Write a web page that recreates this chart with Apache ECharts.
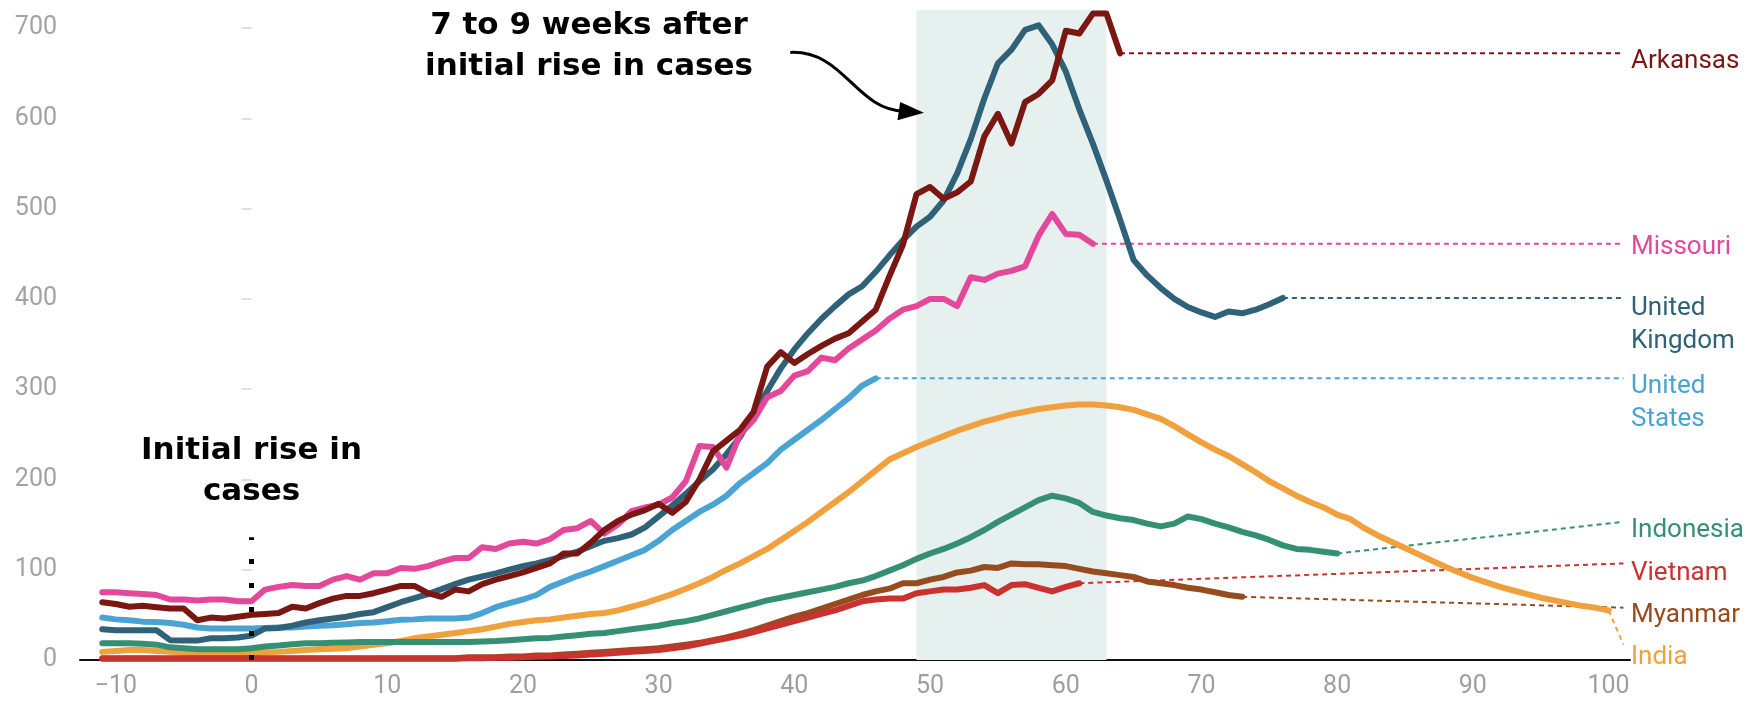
<!DOCTYPE html>
<html><head><meta charset="utf-8">
<script src="https://cdn.jsdelivr.net/npm/echarts@6/dist/echarts.min.js"></script>
<style>html,body{margin:0;padding:0;background:#fff}#c{width:1750px;height:701px}</style>
</head><body><div id="c"></div>
<script>
// ---- data (weeks since initial rise; first value is week X_START) ----
const X_START = -11;
const xTicks = [-10,0,10,20,30,40,50,60,70,80,90,100];
const yTicks = [0,100,200,300,400,500,600,700];

const arkansas = [64,62,59,60,58.5,57,57,44,47,46,48,50,51,52,59,57,63,68,71,71,74,78,82,82,74,70,78,76,84,89,93,97,102,107,118,118,130,144,154,161,166,173,163,175,200,231,243,255,275,325,341,329,339,348,356,362,375,388,425,460,516,524,511,518,530,580,605,572,618,627,642,697,694,716,716,672];
const unitedKingdom = [34,33,33,33,33,22,21.5,21.5,24,24,25,27,35,35.5,38,41.5,44,46,48,51,53,58.5,64,68.5,73,78.5,84,89,92.5,96,100,104,107,111,115,120,126,132,135,139,147,159,171,184,198,211,228,247,273,298,323,344,362,378,392,405,414,430,448,465,480,491,509,539,577,622,661,676,698,703,682,652,610,572,531,488,443,426,412,400,391,385,380,386,384,388,394,401];
const missouri = [75,75,74,73,72,67,67,66,67,67,65,65,78,81,83,82,82,89,93,89,96,96,102,101,104,109,113,113,125,123,129,131,129,134,144,146,154,140,150,165,169,172,180,198,237,236,213,250,266,291,298,315,320,335,332,345,355,365,378,388,392,400,400,392,424,421,428,431,436,470,494,472,471,461];
const unitedStates = [47,45,44,42.5,42,41,39,36,35,35,35,35,35.5,36,36,37,38,38.5,39.5,41,41.5,43,44.5,45,46,46,46,47,52,58.5,63,67,72,81,87,93,98,104,110,116,122,132,144,154,164,172,182,196,207,218,233,244,255,266,278,290,304,312];
const india = [9,10,11,11,10,9,8,7.5,7,7,7,7.5,8.5,9,10,11,12,12.5,13,15,17,18.5,21,24,26,28,30,32,34,37,40,42,44,45,47,49,51,52,55,59,63,68,73,79,85,92,100,107,115,123,133,143,153,164,175,186,198,210,222,229,236,242,248,254,259,264,268,272,275,278,280,282,283,283,282,280,277,272,267,259,250,241,233,226,217,208,198,190,182,175,169,161,156,146,138,131,124,117,110,103,97,91,86,81,77,73,69,66,63,60,58,55];
const indonesia = [18.5,18.5,18.5,18,17,14,13,12,12,12,12,13,15,16,17.5,18.5,18.5,19,19.5,20,20,20,20,20,20,20,20,20,20.5,21,22,23,24,24.5,26,27.5,29,30,32,34,36,38,41,43,46,50,54,58,62,66,69,72,75,78,81,85,88,93,99,105,112,118,123,129,136,144,153,161,169,177,182,179,174,164,160,157,155,151,148,151,159,156,151,147,142,138,133,127,123,122,120,118];
const vietnam = [1.5,1.5,1.5,1.5,1.5,1.5,1.5,1.5,1.5,1.5,1.5,1.5,1.5,1.5,1.5,1.5,1.5,1.5,1.5,1.5,1.5,1.5,1.5,1.5,1.5,1.5,1.5,2,2,2.5,2.5,3,3.5,4,4.5,5,6,7,8,9,10,11,13,15,18,21,24,27,31,35,39,43,47,51,55,60,65,67,68,68,74,76,78,78,80,83,74,83,84,80,76,81,85];
const myanmar = [2,2,2,2,2,2,2,2,2,2,2,2,2,2,2,2,2,2,2,2,2,2,2,2,2,2,2,3,3,3,4,4,5,5,6,7,8,9,10,11,12,13,15,17,19,22,25,29,33,38,43,48,52,57,62,67,72,76,79,85,85,89,92,97,99,103,102,107,106,106,105,104,101,98,96,94,92,87,85,83,80,78,75,72,70];

// shaded window (weeks) and the "initial rise" marker
const bandWeeks = [49, 63];
const riseMarker = [[0, 0], [0, 136]];

// ---- styling / layout ----
const LABEL_X = 101.1;
const seriesDefs = [
  {name:'India',     data:india,         color:'#f0a03c', label:'India',             labelY:17,  dy:13},
  {name:'Indonesia', data:indonesia,     color:'#358f73', label:'Indonesia',         labelY:153, dy:9},
  {name:'Myanmar',   data:myanmar,       color:'#974c1f', label:'Myanmar',           labelY:58,  dy:8},
  {name:'Vietnam',   data:vietnam,       color:'#c9322e', label:'Vietnam',           labelY:107, dy:10},
  {name:'US',        data:unitedStates,  color:'#4ba3d3', label:'United\nStates',    labelY:312, dy:25},
  {name:'UK',        data:unitedKingdom, color:'#2f6278', label:'United\nKingdom',   labelY:401, dy:27},
  {name:'Missouri',  data:missouri,      color:'#e4489b', label:'Missouri',          labelY:461, dy:4},
  {name:'Arkansas',  data:arkansas,      color:'#7a1712', label:'Arkansas',          labelY:672, dy:8}
];

const toPairs = arr => arr.map((v, i) => [X_START + i, v]);
const minus = v => String(v).replace('-', '\u2212');

const series = [];
series.push({
  type:'line', data:[], silent:true, z:1,
  markArea:{silent:true, itemStyle:{color:'#e6f0ee'}, data:[[{xAxis:bandWeeks[0]},{xAxis:bandWeeks[1]}]]}
});
seriesDefs.forEach(d => {
  const pts = toPairs(d.data);
  const last = pts[pts.length - 1];
  series.push({
    name:d.name + ' leader', type:'line', z:2, silent:true,
    symbol:'circle', symbolSize:1, showSymbol:true, showAllSymbol:true,
    itemStyle:{color:'rgba(0,0,0,0)', borderWidth:0},
    lineStyle:{color:d.color, width:2, type:[5,4]},
    label:{show:false},
    data:[
      {value:last},
      {value:[LABEL_X, d.labelY], label:{
        show:true, position:'right', distance:7, offset:[0, d.dy],
        formatter:d.label, color:d.color, fontSize:26, fontFamily:'Roboto', lineHeight:33, align:'left'
      }}
    ]
  });
});
seriesDefs.forEach(d => {
  series.push({
    name:d.name, type:'line', z:3, symbol:'none', silent:true,
    data:toPairs(d.data),
    lineStyle:{color:d.color, width:6, join:'round', cap:'round'}
  });
});
series.push({
  type:'line', z:10, symbol:'none', silent:true, data:riseMarker,
  lineStyle:{color:'#000', width:5, type:[5,19], cap:'butt'}
});

const chart = echarts.init(document.getElementById('c'), null, {renderer:'canvas'});
chart.setOption({
  animation:false,
  backgroundColor:'#fff',
  grid:{left:80, right:120, top:10, bottom:41, containLabel:false},
  xAxis:{
    type:'value', min:-12.64, max:101.58,
    axisLine:{show:true, lineStyle:{color:'#111', width:2}},
    axisTick:{show:false},
    splitLine:{show:false},
    axisLabel:{customValues:xTicks, formatter:minus, color:'#9e9e9e', fontSize:25, fontFamily:'Roboto', margin:14}
  },
  yAxis:{
    type:'value', min:0, max:720,
    axisLine:{show:false},
    axisTick:{show:true, customValues:yTicks, length:10, lineStyle:{color:'#d6d6d6', width:1.5}},
    splitLine:{show:false},
    axisLabel:{customValues:yTicks, color:'#a3a3a3', fontSize:25, fontFamily:'Roboto', margin:23}
  },
  series
});

// ---- annotations placed through the chart's own coordinate system ----
const annot1 = {at:[24.87, 725.4], text:'7 to 9 weeks after\ninitial rise in cases'};
const annot2 = {at:[0, 254], text:'Initial rise in\ncases'};
const arrowCurve = [[39.7,673],[43.7,675.5],[44.5,609],[48.1,608]];
const arrowHead = [[49.55,606.3],[47.8,618],[47.6,598]];
const px = p => chart.convertToPixel({gridIndex:0}, p);
const a1 = px(annot1.at), a2 = px(annot2.at);
const c = arrowCurve.map(px);
const textStyle = (t, p) => ({type:'text', z:20, style:{text:t, x:p[0], y:p[1], align:'center', verticalAlign:'top',
  font:'bold 31px "DejaVu Sans", sans-serif', lineHeight:41, fill:'#000'}});
chart.setOption({graphic:[
  textStyle(annot1.text, a1),
  textStyle(annot2.text, a2),
  {type:'bezierCurve', z:20, shape:{x1:c[0][0], y1:c[0][1], cpx1:c[1][0], cpy1:c[1][1], cpx2:c[2][0], cpy2:c[2][1], x2:c[3][0], y2:c[3][1]},
   style:{stroke:'#000', lineWidth:3, fill:null}},
  {type:'polygon', z:20, shape:{points:arrowHead.map(px)}, style:{fill:'#000'}}
]});
</script>
</body></html>
